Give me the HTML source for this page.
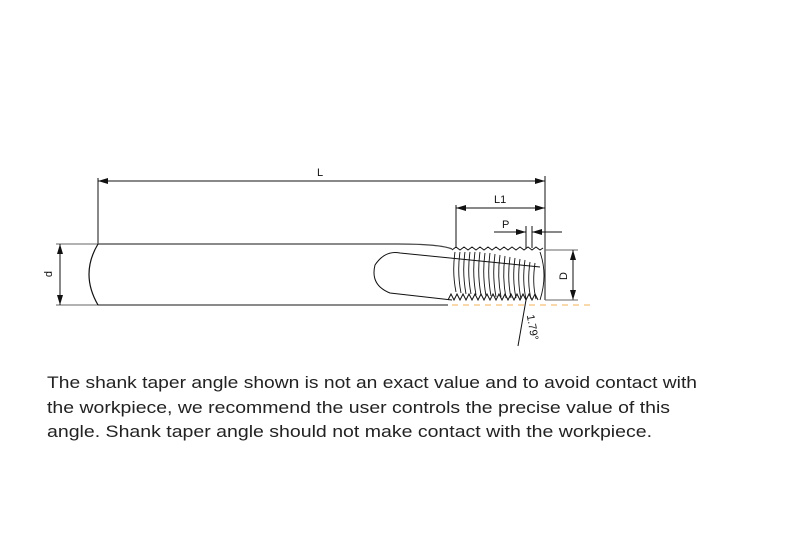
<!DOCTYPE html>
<html><head><style>
body{margin:0;background:#fff;width:792px;height:557px;overflow:hidden;position:relative}
</style></head><body>
<svg width="792" height="557" style="position:absolute;left:0;top:0" font-family="Liberation Sans,sans-serif">
<defs><marker id="a" markerWidth="10" markerHeight="6" refX="10" refY="3" orient="auto-start-reverse" markerUnits="userSpaceOnUse"><path d="M0,0 L10,3 L0,6z" fill="#111"/></marker></defs>
<g stroke="#111" stroke-width="1" fill="none">
<line x1="98" y1="181" x2="545" y2="181" marker-start="url(#a)" marker-end="url(#a)"/>
<line x1="98" y1="178" x2="98" y2="244"/>
<line x1="545" y1="176" x2="545" y2="300"/>
<line x1="456" y1="208" x2="545" y2="208" marker-start="url(#a)" marker-end="url(#a)"/>
<line x1="456" y1="205" x2="456" y2="248"/>
<line x1="494" y1="232" x2="526" y2="232" marker-end="url(#a)"/>
<line x1="562" y1="232" x2="532" y2="232" marker-end="url(#a)"/>
<line x1="526" y1="226" x2="526" y2="248"/><line x1="532" y1="226" x2="532" y2="248"/>
<line x1="545" y1="250" x2="578" y2="250" stroke="#666"/>
<line x1="573" y1="250" x2="573" y2="300" marker-start="url(#a)" marker-end="url(#a)"/>
<line x1="545" y1="300" x2="578" y2="300" stroke="#666"/>
<line x1="56" y1="244" x2="98" y2="244" stroke="#666"/>
<line x1="56" y1="305" x2="98" y2="305" stroke="#666"/>
<line x1="60" y1="244" x2="60" y2="305" marker-start="url(#a)" marker-end="url(#a)"/>
<path d="M98,244 L398,244 Q440,244 452,249" stroke-width="1.3" stroke="#444"/>
<line x1="98" y1="305" x2="448" y2="305" stroke-width="1.3" stroke="#444"/>
<path d="M98,244 Q80,274 98,305" stroke-width="1.2"/>
<path d="M452,300 L390,293 Q370,285 375,265 Q385,250 400,253 L540,267" stroke-width="1"/>
<path d="M452,250 l4,-3 l4,3 l4,-3 l4,3 l4,-3 l4,3 l4,-3 l4,3 l4,-3 l4,3 l4,-3 l4,3 l4,-3 l4,3 l4,-3 l4,3 l4,-3 l4,3 l4,-3 l4,3 l4,-3 l4,3 l3,-2"/>
<path d="M448,300 l3,-6 l3,6 l3,-6 l3,6 l3,-6 l3,6 l3,-6 l3,6 l3,-6 l3,6 l3,-6 l3,6 l3,-6 l3,6 l3,-6 l3,6 l3,-6 l3,6 l3,-6 l3,6 l3,-6 l3,6 l3,-6 l3,6 l3,-6 l3,6 l3,-6 l3,6 l3,-6 l3,6"/>
<g stroke-width="0.9">
<path d="M455,252 Q452,272 456,292"/><path d="M460,252 Q457,272 461,293"/><path d="M465,252 Q462,272 466,294"/><path d="M470,252 Q467,273 471,294"/><path d="M475,252 Q472,273 476,295"/><path d="M480,252 Q477,273 481,295"/><path d="M485,253 Q482,274 486,296"/><path d="M490,253 Q487,274 491,296"/><path d="M495,254 Q492,275 496,297"/><path d="M500,255 Q497,276 501,297"/><path d="M505,256 Q502,277 506,298"/><path d="M510,257 Q507,278 511,298"/><path d="M515,258 Q512,279 516,298"/><path d="M520,259 Q517,280 521,299"/><path d="M525,260 Q522,281 526,299"/><path d="M530,262 Q527,282 531,299"/><path d="M535,263 Q532,283 536,299"/>
<path d="M540,252 Q548,275 540,300"/>
</g>
<line x1="518" y1="346" x2="526" y2="300"/>
</g>
<line x1="452" y1="305" x2="592" y2="305" stroke="#f5c27a" stroke-width="1.3" stroke-dasharray="6,5"/>
<g fill="#111" font-size="11">
<text x="317" y="176">L</text>
<text x="494" y="203">L1</text>
<text x="502" y="228">P</text>
<text transform="translate(567,276) rotate(-90)" text-anchor="middle">D</text>
<text transform="translate(52,274) rotate(-90)" text-anchor="middle">d</text>
<text transform="translate(529,328) rotate(80)" text-anchor="middle">1.79°</text>
</g>
<g fill="#222" font-size="17">
<text x="47" y="388" textLength="650" lengthAdjust="spacingAndGlyphs">The shank taper angle shown is not an exact value and to avoid contact with</text>
<text x="47" y="413" textLength="623" lengthAdjust="spacingAndGlyphs">the workpiece, we recommend the user controls the precise value of this</text>
<text x="47" y="437" textLength="605" lengthAdjust="spacingAndGlyphs">angle. Shank taper angle should not make contact with the workpiece.</text>
</g>
</svg>
</body></html>
